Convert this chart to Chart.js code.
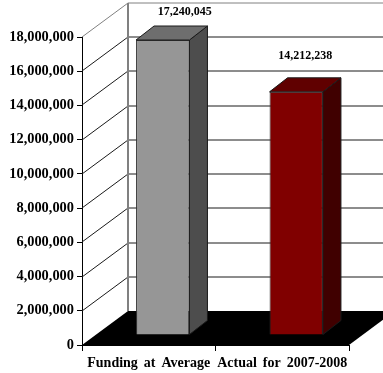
<!DOCTYPE html>
<html>
<head>
<meta charset="utf-8">
<title>Funding at Average vs Actual</title>
<script src="https://cdn.jsdelivr.net/npm/chart.js@4/dist/chart.umd.min.js"></script>
<style>
  html, body { margin: 0; padding: 0; background: #fff; }
  canvas { display: block; }
</style>
</head>
<body>
<canvas id="chart" width="383" height="373"></canvas>
<script>
// ===== data =====
const categories = ['Funding at Average', 'Actual for 2007-2008'];
const amounts = [17240045, 14212238];
const frontColors = ['#969696', '#800000'];
const sideColors = ['#4d4d4d', '#400000'];
const topColors = ['#6e6e6e', '#600000'];

// ===== 3D box settings (pixels) =====
const WALL_DX = 46, WALL_DY = -34;   // front plane to back wall
const BAR_DX = 14, BAR_DY = -10;     // front plane to bar front
const SIDE_DX = 18, SIDE_DY = -14;   // bar depth
const LABEL_SHIFT = [[22, -28], [9, -36]]; // value label offset from bar top

const fmt = v => v.toLocaleString('en-US');

// floor, back wall and grid, drawn behind the bars
const roomPlugin = {
  id: 'room',
  beforeDraw(chart) {
    // wider gaps between the words of the category labels
    chart.ctx.wordSpacing = '2.5px';
  },
  beforeDatasetsDraw(chart) {
    const { ctx, chartArea: a, scales: { y } } = chart;
    const backL = a.left + WALL_DX;
    const backR = a.right + WALL_DX;
    const y0 = y.getPixelForValue(0);
    ctx.save();

    ctx.fillStyle = '#000';
    ctx.beginPath();
    ctx.moveTo(a.left, y0);
    ctx.lineTo(backL, y0 + WALL_DY);
    ctx.lineTo(backR, y0 + WALL_DY);
    ctx.lineTo(a.right, y0);
    ctx.closePath();
    ctx.fill();

    y.ticks.forEach(t => {
      if (t.value === 0) return;
      const py = Math.round(y.getPixelForValue(t.value));
      const top = t.value === y.max;
      ctx.strokeStyle = top ? '#808080' : '#1a1a1a';
      ctx.lineWidth = 1;
      ctx.beginPath();
      ctx.moveTo(a.left, py);
      ctx.lineTo(backL, py + WALL_DY);
      ctx.lineTo(backR, py + WALL_DY);
      ctx.stroke();
    });

    ctx.strokeStyle = '#808080';
    ctx.lineWidth = 2;
    ctx.beginPath();
    ctx.moveTo(backL, y.getPixelForValue(y.max) + WALL_DY);
    ctx.lineTo(backL, y0 + WALL_DY);
    ctx.stroke();
    ctx.restore();
  }
};

// pushes the bars back off the front plane and adds top and side faces
const boxPlugin = {
  id: 'box',
  beforeDatasetDraw(chart) {
    chart.ctx.save();
    chart.ctx.translate(BAR_DX, BAR_DY);
  },
  afterDatasetDraw(chart, args) {
    const { ctx } = chart;
    ctx.strokeStyle = '#1a1a1a';
    ctx.lineWidth = 1;
    ctx.lineJoin = 'round';
    args.meta.data.forEach((bar, i) => {
      const l = bar.x - bar.width / 2, r = bar.x + bar.width / 2;
      const face = (pts, color) => {
        ctx.fillStyle = color;
        ctx.beginPath();
        pts.forEach((p, k) => k ? ctx.lineTo(p[0], p[1]) : ctx.moveTo(p[0], p[1]));
        ctx.closePath();
        ctx.fill();
        ctx.stroke();
      };
      face([[r, bar.y], [r + SIDE_DX, bar.y + SIDE_DY], [r + SIDE_DX, bar.base + SIDE_DY], [r, bar.base]], sideColors[i]);
      face([[l, bar.y], [l + SIDE_DX, bar.y + SIDE_DY], [r + SIDE_DX, bar.y + SIDE_DY], [r, bar.y]], topColors[i]);
    });
    ctx.restore();
  },
  afterDatasetsDraw(chart) {
    const { ctx } = chart;
    ctx.save();
    ctx.fillStyle = '#000';
    ctx.font = 'bold 12px "Liberation Serif"';
    ctx.textAlign = 'center';
    ctx.textBaseline = 'middle';
    chart.getDatasetMeta(0).data.forEach((bar, i) => {
      const x = bar.x + BAR_DX + LABEL_SHIFT[i][0];
      const y = bar.y + BAR_DY + LABEL_SHIFT[i][1];
      ctx.fillText(fmt(amounts[i]), x, y);
    });
    ctx.restore();
  }
};

new Chart(document.getElementById('chart'), {
  type: 'bar',
  data: {
    labels: categories,
    datasets: [{
      data: amounts,
      backgroundColor: frontColors,
      borderColor: '#333',
      borderWidth: 1,
      barPercentage: 0.4,
      categoryPercentage: 1,
      clip: false
    }]
  },
  plugins: [roomPlugin, boxPlugin],
  options: {
    responsive: false,
    animation: false,
    layout: { padding: { top: 37, right: 34, left: 0, bottom: 0 } },
    plugins: { legend: { display: false }, tooltip: { enabled: false } },
    scales: {
      x: {
        afterFit: s => { s.height = 28; },
        grid: { display: true, drawOnChartArea: false, color: '#000', tickLength: 6 },
        border: { color: '#000' },
        ticks: {
          color: '#000',
          padding: 4,
          maxRotation: 0,
          autoSkip: false,
          font: { family: '"Liberation Serif"', size: 14, weight: 'bold' }
        }
      },
      y: {
        min: 0,
        max: 18000000,
        afterFit: s => { s.width = 82; },
        grid: { display: true, drawOnChartArea: false, color: '#000', tickLength: 5 },
        border: { color: '#000' },
        ticks: {
          stepSize: 2000000,
          color: '#000',
          padding: 3,
          font: { family: '"Liberation Serif"', size: 14.4, weight: 'bold' },
          callback: v => fmt(v)
        }
      }
    }
  }
});
</script>
</body>
</html>
